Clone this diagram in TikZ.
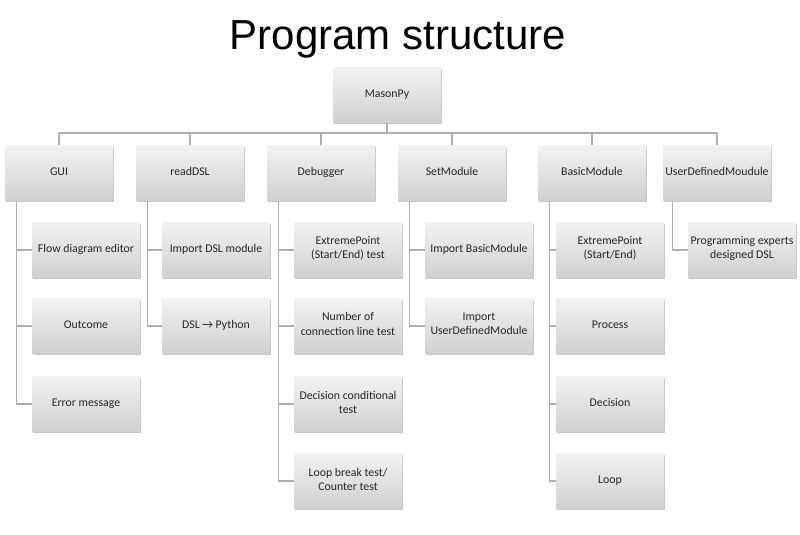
\documentclass[tikz,border=0pt]{standalone}
\usepackage{fontspec}
\setmainfont{Carlito}
\newfontfamily\titlefont{Liberation Sans}
\usetikzlibrary{shadows,calc}
\definecolor{linegray}{HTML}{AEAEAE}
\definecolor{boxtop}{HTML}{F2F2F2}
\definecolor{boxbot}{HTML}{D0D0D0}
\tikzset{
  box/.style={rectangle, minimum width=108pt, minimum height=55pt, inner sep=2pt,
    top color=boxtop, bottom color=boxbot, align=center, text=black!85,
    font=\fontsize{11.8}{14}\selectfont,
    execute at begin node={\strut}, execute at end node={\strut},
    drop shadow={shadow xshift=1.2pt, shadow yshift=-1.2pt, opacity=0.22, fill=black}},
  conn/.style={draw=linegray, line width=1.2pt},
}
\begin{document}
\begin{tikzpicture}[x=1pt,y=-1pt]
\useasboundingbox (0,0) rectangle (800,535);
\fill[white] (0,0) rectangle (800,535);
\node[anchor=base, font=\titlefont\fontsize{42}{48}\selectfont] (title) at (398,50) {Program structure};

\node[box] (mason) at (387,95) {MasonPy};

\node[box] (gui) at (59,173) {GUI};
\node[box] (rdsl) at (190,173) {readDSL};
\node[box] (dbg) at (321,173) {Debugger};
\node[box] (setm) at (452,173) {SetModule};
\node[box] (basm) at (592,173) {BasicModule};
\node[box] (udm) at (717,173) {UserDefinedMoudule};

\node[box] (g1) at (86,250) {Flow diagram editor};
\node[box] (g2) at (86,326) {Outcome};
\node[box] (g3) at (86,404) {Error message};

\node[box] (r1) at (216,250) {Import DSL module};
\node[box] (r2) at (216,326) {DSL → Python};

\node[box] (d1) at (348,250) {ExtremePoint\\(Start/End) test};
\node[box] (d2) at (348,326) {Number of\\connection line test};
\node[box] (d3) at (348,404) {Decision conditional\\test};
\node[box] (d4) at (348,481) {Loop break test/\\Counter test};

\node[box] (s1) at (479,250) {Import BasicModule};
\node[box] (s2) at (479,326) {Import\\UserDefinedModule};

\node[box] (b1) at (610,250) {ExtremePoint\\(Start/End)};
\node[box] (b2) at (610,326) {Process};
\node[box] (b3) at (610,404) {Decision};
\node[box] (b4) at (610,481) {Loop};

\node[box] (u1) at (742,250) {Programming experts\\designed DSL};

% bus
\coordinate (busy) at (0,133);
\draw[conn] (mason.south) -- (mason.south |- busy);
\draw[conn] (gui.north |- busy) -- (udm.north |- busy);
\foreach \n in {gui,rdsl,dbg,setm,basm,udm}{
  \draw[conn] (\n.north |- busy) -- (\n.north);
}
% stems
\coordinate (sg) at ($(gui.south west)+(12,0)$);
\draw[conn] (sg) |- (g3.west);
\draw[conn] (sg |- g1.west) -- (g1.west);
\draw[conn] (sg |- g2.west) -- (g2.west);

\coordinate (sr) at ($(rdsl.south west)+(12,0)$);
\draw[conn] (sr) |- (r2.west);
\draw[conn] (sr |- r1.west) -- (r1.west);

\coordinate (sd) at ($(dbg.south west)+(12,0)$);
\draw[conn] (sd) |- (d4.west);
\draw[conn] (sd |- d1.west) -- (d1.west);
\draw[conn] (sd |- d2.west) -- (d2.west);
\draw[conn] (sd |- d3.west) -- (d3.west);

\coordinate (ss) at ($(setm.south west)+(12,0)$);
\draw[conn] (ss) |- (s2.west);
\draw[conn] (ss |- s1.west) -- (s1.west);

\coordinate (sb) at ($(basm.south west)+(12,0)$);
\draw[conn] (sb) |- (b4.west);
\draw[conn] (sb |- b1.west) -- (b1.west);
\draw[conn] (sb |- b2.west) -- (b2.west);
\draw[conn] (sb |- b3.west) -- (b3.west);

\coordinate (su) at ($(udm.south west)+(10,0)$);
\draw[conn] (su) |- (u1.west);
\end{tikzpicture}
\end{document}
